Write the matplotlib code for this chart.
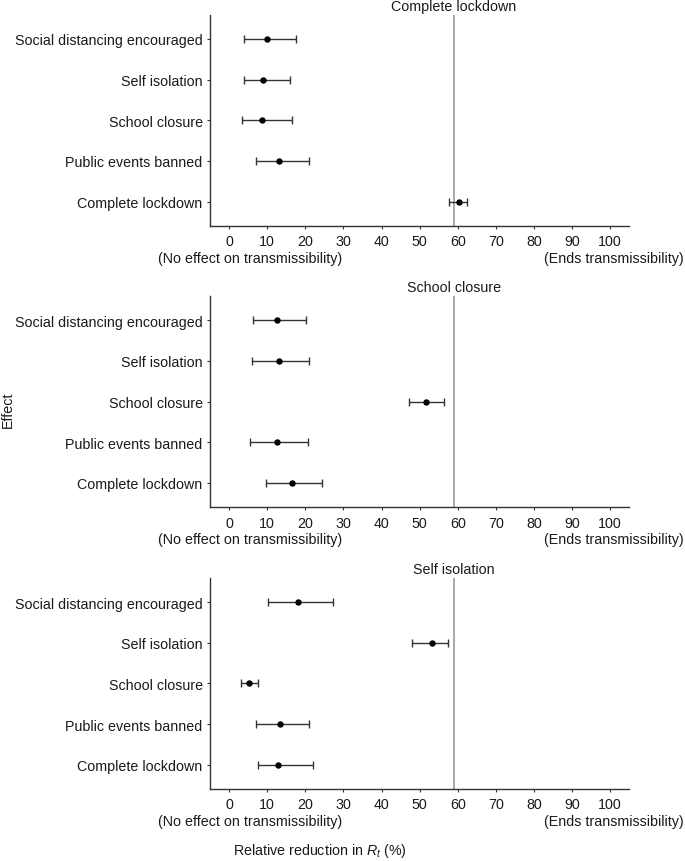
import matplotlib
matplotlib.use("Agg")
import matplotlib.pyplot as plt
from matplotlib.transforms import offset_copy

plt.rcParams['font.family'] = ['Liberation Sans', 'DejaVu Sans']
plt.rcParams['mathtext.fontset'] = 'custom'
plt.rcParams['mathtext.rm'] = 'Liberation Sans'
plt.rcParams['mathtext.it'] = 'Liberation Sans:italic'

categories = ["Complete lockdown", "Public events banned", "School closure",
              "Self isolation", "Social distancing encouraged"]

panel_titles = ["Complete lockdown", "School closure", "Self isolation"]

# values ordered as categories (bottom to top)
est = [
    [60.4, 13.0, 8.6, 8.9, 9.9],
    [16.4, 12.6, 51.7, 13.2, 12.5],
    [12.8, 13.4, 5.2, 53.2, 18.2],
]
lo = [
    [57.8, 7.1, 3.5, 3.8, 3.95],
    [9.8, 5.4, 47.1, 6.0, 6.4],
    [7.6, 7.1, 3.2, 48.1, 10.3],
]
hi = [
    [62.4, 21.1, 16.5, 15.9, 17.5],
    [24.5, 20.6, 56.5, 21.0, 20.2],
    [22.0, 20.9, 7.5, 57.4, 27.3],
]
ref_line = 59.0
xticks = list(range(0, 101, 10))

W, H = 685, 862
fig = plt.figure(figsize=(W / 100, H / 100), dpi=100)

left = 210 / W
right = 629.3 / W
panel_px = [(15.5, 227), (296.7, 508.3), (579, 790)]

fs = 10.3
tc = '#1a1a1a'
ax_col = '#333333'
for i, (top_px, bot_px) in enumerate(panel_px):
    ax = fig.add_axes([left, 1 - bot_px / H, right - left, (bot_px - top_px) / H])
    ypos = list(range(1, len(categories) + 1))
    xerr = [[e - l for e, l in zip(est[i], lo[i])], [h - e for e, h in zip(est[i], hi[i])]]
    ax.axvline(ref_line, color='#a8a8a8', lw=1.4, zorder=1)
    ax.errorbar(est[i], ypos, xerr=xerr, fmt='o', color='black', ecolor='#333333',
                elinewidth=1.0, capsize=2.9, capthick=1.0, markersize=3.6, zorder=3)
    ax.set_xlim(-5, 105)
    ax.set_ylim(0.4, 5.6)
    ax.set_yticks(ypos)
    ax.set_yticklabels(categories, fontsize=fs, color=tc)
    ax.set_xticks(xticks)
    ax.set_xticklabels([str(t) for t in xticks], fontsize=fs, color=tc)
    for s in ['top', 'right']:
        ax.spines[s].set_visible(False)
    for s in ['left', 'bottom']:
        ax.spines[s].set_color(ax_col)
        ax.spines[s].set_linewidth(1.0)
    ax.tick_params(axis='both', length=2.5, width=0.8, color=ax_col)
    ax.tick_params(axis='x', pad=3.6)
    ax.tick_params(axis='y', pad=2.8)
    trans = offset_copy(ax.get_xaxis_transform(), fig=fig, x=0, y=3.3, units='points')
    ax.text(ref_line, 1.0, panel_titles[i], transform=trans, ha='center', va='baseline',
            fontsize=fs, color=tc)
    fig.text(158 / W, 1 - (bot_px + 32) / H, "(No effect on transmissibility)",
             ha='left', va='center', fontsize=fs, color=tc)
    fig.text(684 / W, 1 - (bot_px + 32) / H, "(Ends transmissibility)",
             ha='right', va='center', fontsize=fs, color=tc)

fig.text(320 / W, 1 - 851 / H, r"Relative reduction in $R_t$ (%)", ha='center',
         va='center', fontsize=fs, color=tc)
fig.text(8 / W, 1 - 410 / H, "Effect", rotation=90, ha='center', va='center',
         fontsize=fs, color=tc)

fig.savefig("out.png", dpi=100)
